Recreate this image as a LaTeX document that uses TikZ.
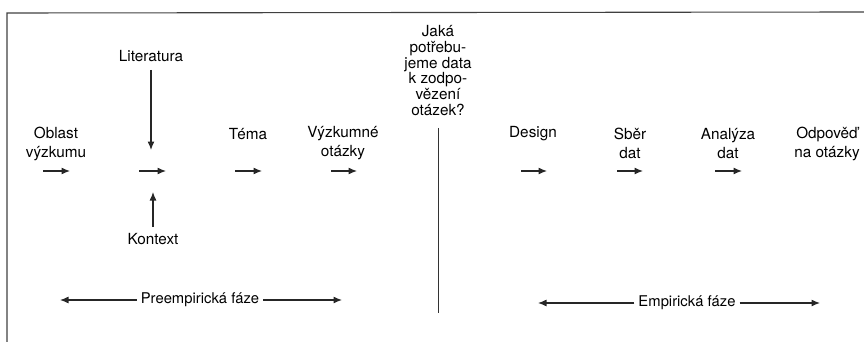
\documentclass[tikz,border=0pt]{standalone}
\usepackage{fontspec}
\setmainfont{TeX Gyre Heros}
\usetikzlibrary{arrows.meta}
\begin{document}
\begin{tikzpicture}[x=1pt,y=-1pt,
  lbl/.style={align=center,font=\fontsize{15.3}{19}\selectfont,inner sep=2pt},
  qlbl/.style={align=center,font=\fontsize{15.3}{15.8}\selectfont,inner sep=0pt},
  phase/.style={font=\fontsize{14.8}{17}\selectfont,inner sep=4pt},
  arr/.style={line width=1.2pt,draw=black!85,-{Latex[length=8.5pt,width=7pt]}},
  frame/.style={line width=1.1pt,draw=black!75}]
\useasboundingbox (0,0) rectangle (864,342);

% open frame: left side and top
\draw[frame] (7,342) -- (7,13) -- (864,12);

% step labels
\node[lbl] (oblast) at (56,143.5) {Oblast\\výzkumu};
\node[lbl] (lit) at (151,56) {Literatura};
\node[lbl] (kontext) at (153,239) {Kontext};
\node[lbl] (tema) at (248,134) {Téma};
\node[lbl] (otazky) at (343,143.5) {Výzkumné\\otázky};
\node[lbl] (design) at (533,134) {Design};
\node[lbl] (sber) at (630,143.5) {Sběr\\dat};
\node[lbl] (analyza) at (728,143.5) {Analýza\\dat};
\node[lbl] (odpoved) at (827,143.5) {Odpověď\\na otázky};

% question above the divider
\node[qlbl] (jaka) at (438,70.5) {Jaká\\potřebu-\\jeme data\\k zodpo-\\vězení\\otázek?};

% short arrows between the steps
\foreach \n/\a/\b in {a1/43/70, a2/139/166, a3/235/262, a4/331/357,
                      a5/521/547, a6/617/643, a7/715/742} {
  \coordinate (\n s) at (\a,171);
  \coordinate (\n e) at (\b,171);
  \draw[arr] (\n s) -- (\n e);
}

% literature and context feed into the second step
\coordinate (litEnd) at (151,150);
\coordinate (konEnd) at (153,192);
\draw[arr] (lit.south) ++(0,6) coordinate (litStart) (litStart) -- (litEnd);
\draw[arr] (kontext.north) ++(0,-4) coordinate (konStart) (konStart) -- (konEnd);

% divider between the two phases
\coordinate (divTop) at (438,128);
\coordinate (divBot) at (438,313);
\draw[line width=1pt,draw=black!80] (divTop) -- (divBot);

% phase spans
\node[phase] (pre) at (200,300) {Preempirická fáze};
\coordinate (preL) at (60,300);
\coordinate (preR) at (342,300);
\draw[arr] (pre.west) -- (preL);
\draw[arr] (pre.east) -- (preR);

\node[phase] (emp) at (687,303) {Empirická fáze};
\coordinate (empL) at (538,303);
\coordinate (empR) at (820,303);
\draw[arr] (emp.west) -- (empL);
\draw[arr] (emp.east) -- (empR);
\end{tikzpicture}
\end{document}
